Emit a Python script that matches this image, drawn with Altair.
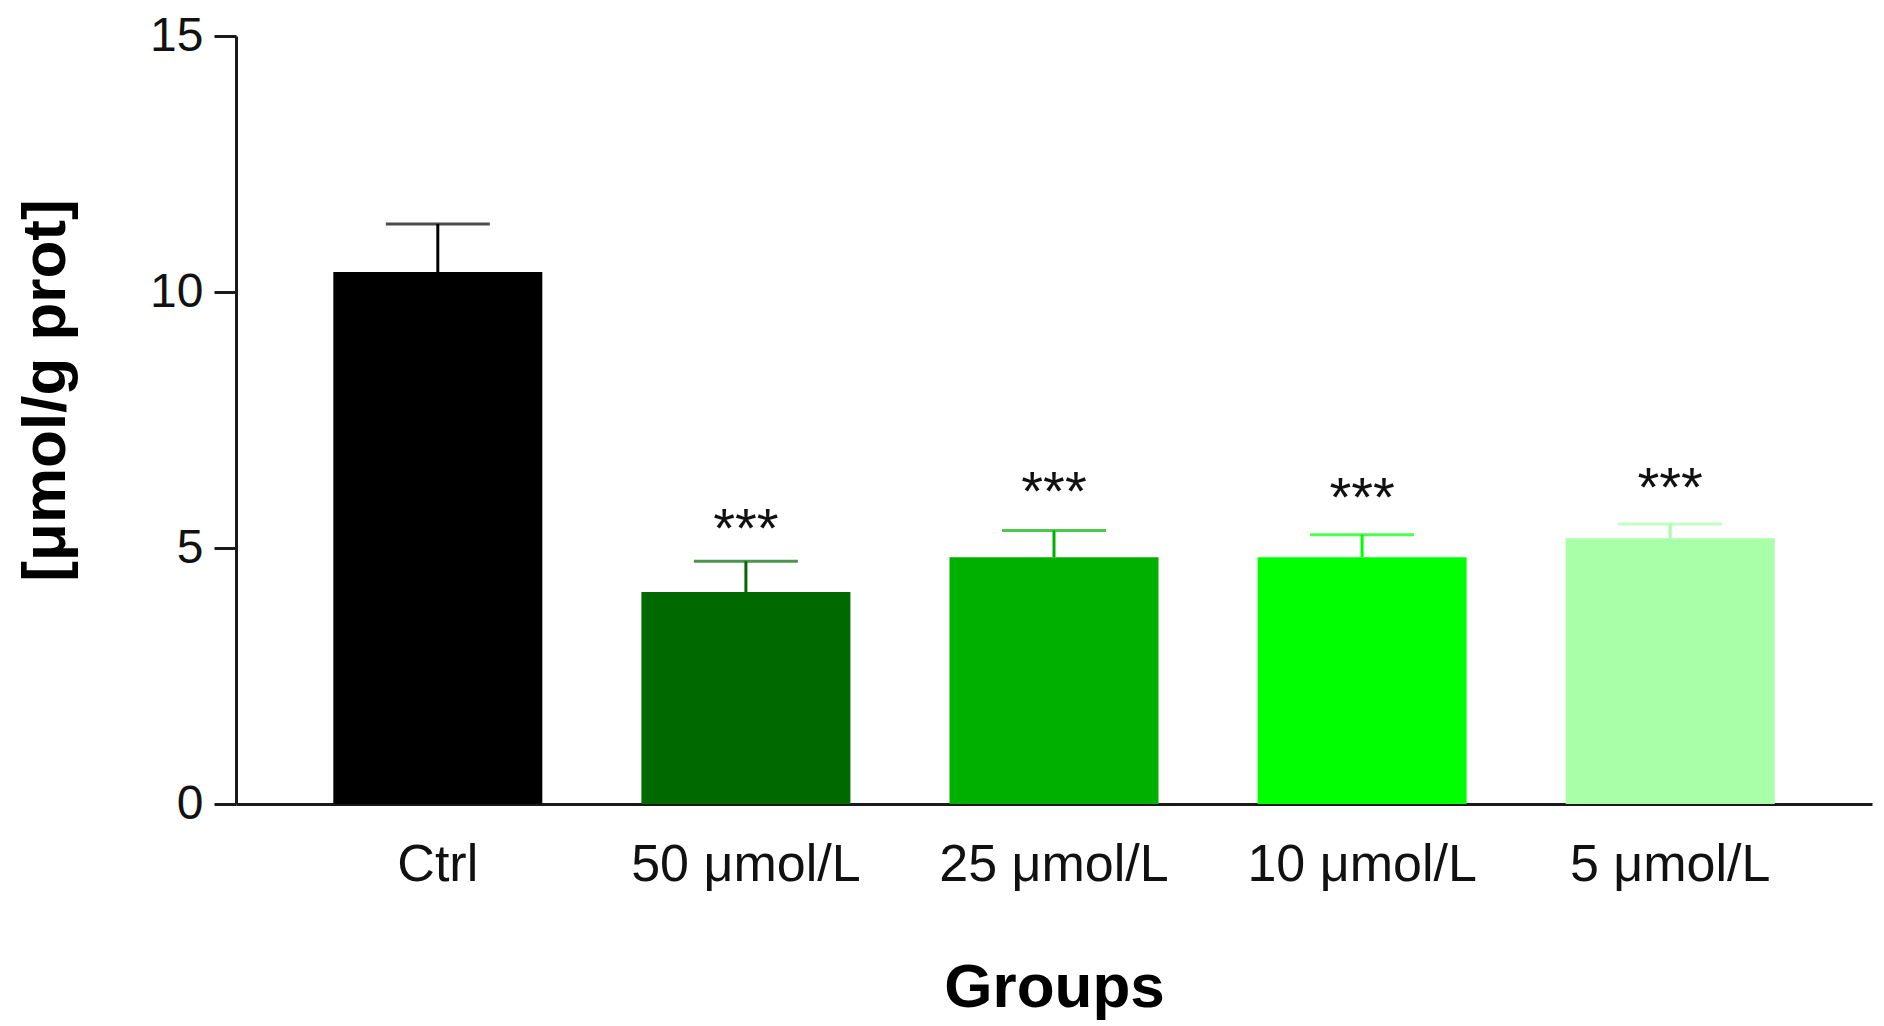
import altair as alt
import pandas as pd

groups = ["Ctrl", "50 μmol/L", "25 μmol/L", "10 μmol/L", "5 μmol/L"]
means = [10.39, 4.14, 4.82, 4.82, 5.19]
error_tops = [11.33, 4.74, 5.34, 5.26, 5.47]
stars = ["", "***", "***", "***", "***"]
star_positions = [None, 5.54, 6.26, 6.16, 6.35]
colors = ["#000000", "#006a00", "#00b000", "#00ff00", "#a8ffa8"]

df = pd.DataFrame({
    "group": groups,
    "mean": means,
    "err": error_tops,
    "star": stars,
    "star_y": star_positions,
})

FONT = "Liberation Sans"

x_enc = alt.X(
    "group:N",
    sort=groups,
    scale=alt.Scale(paddingInner=0.324, paddingOuter=0.317),
    axis=alt.Axis(
        ticks=False, tickSize=0, labelAngle=0, labelFontSize=52, labelPadding=35,
        labelLimit=0, labelColor="#111111", labelFont=FONT,
        domainWidth=3, domainColor="#1a1a1a",
        title="Groups", titleFontSize=62, titleFontWeight="bold", titleFont=FONT,
        titleColor="#000000", titleY=202, titleBaseline="alphabetic",
    ),
)
y_scale = alt.Scale(domain=[0, 15], nice=False)
y_axis = alt.Axis(
    values=[0, 5, 10, 15], tickSize=22, tickWidth=3, tickColor="#1a1a1a",
    domainWidth=3, domainColor="#1a1a1a", grid=False,
    labelFontSize=48, labelPadding=11, labelColor="#111111", labelFont=FONT,
    title="[μmol/g prot]", titleFontSize=62, titleFontWeight="bold", titleFont=FONT,
    titleColor="#000000", titleAngle=270, titleX=-172, titleY=354,
    titleBaseline="alphabetic", titleAlign="center",
)
color_enc = alt.Color("group:N", scale=alt.Scale(domain=groups, range=colors), legend=None)

base = alt.Chart(df)

bars = base.mark_bar(size=209).encode(
    x=x_enc,
    y=alt.Y("mean:Q", scale=y_scale, axis=y_axis),
    color=color_enc,
)
stems = base.mark_rule(strokeWidth=3).encode(
    x=alt.X("group:N", sort=groups),
    y=alt.Y("mean:Q"),
    y2="err:Q",
    color=color_enc,
)
caps = base.mark_tick(size=104, thickness=3, orient="horizontal").encode(
    x=alt.X("group:N", sort=groups),
    y=alt.Y("err:Q"),
    color=color_enc,
)
texts = base.transform_filter("datum.star != ''").mark_text(
    fontSize=56, font=FONT, baseline="alphabetic", dy=27, color="#111111"
).encode(
    x=alt.X("group:N", sort=groups),
    y=alt.Y("star_y:Q"),
    text="star:N",
)

chart = alt.layer(bars, stems, caps, texts).properties(
    width=1636, height=768,
    autosize=alt.AutoSizeParams(type="none"),
    padding={"left": 228, "top": 28, "right": 2, "bottom": 218},
).configure_view(stroke=None)

chart.save("out.html", embed_options={"renderer": "svg", "actions": False})
